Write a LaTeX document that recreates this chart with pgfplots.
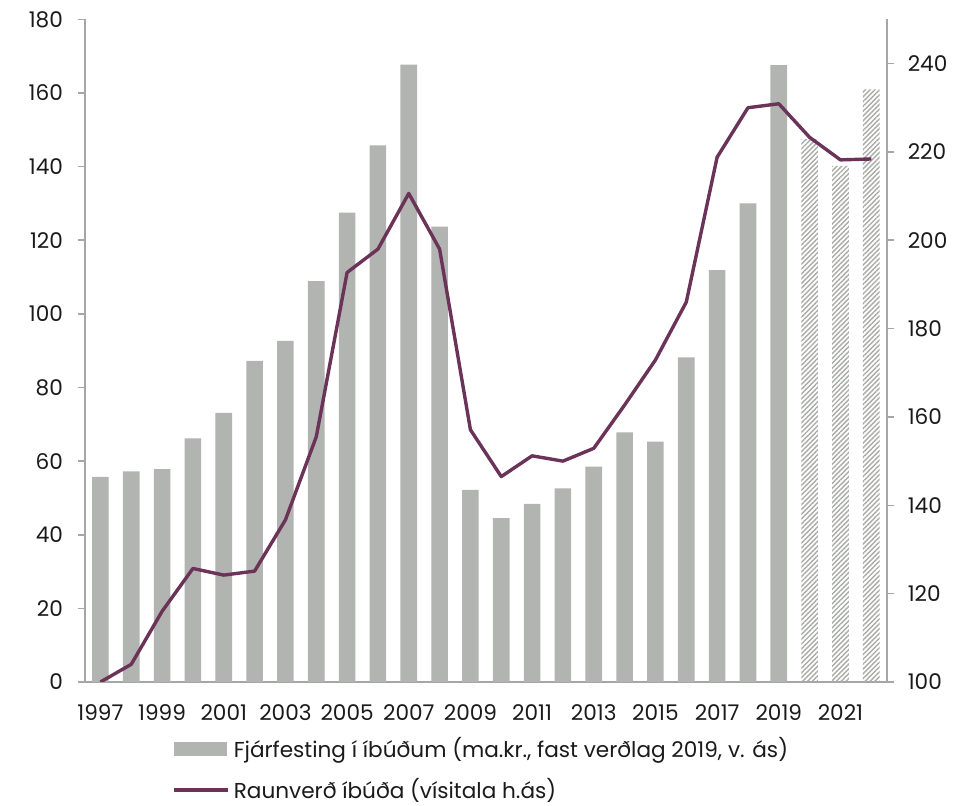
\documentclass[border=0pt]{standalone}
\usepackage{pgfplots}
\pgfplotsset{compat=1.18}
\usetikzlibrary{patterns.meta}
\usepackage{fontspec}
\setmainfont{Poppins}

\definecolor{barcol}{HTML}{B2B4B1}
\definecolor{hatchcol}{HTML}{A9ABA8}
\definecolor{linecol}{HTML}{6B3358}
\definecolor{axiscol}{HTML}{A6A6A6}
\definecolor{txtcol}{HTML}{1A1A1A}

% Investment in housing (left axis), 1997-2022; last three years are forecasts
\pgfplotstableread{
x  y
0  55.7
1  57.2
2  57.8
3  66.2
4  73.1
5  87.2
6  92.7
7  108.9
8  127.5
9  145.8
10 167.7
11 123.7
12 52.2
13 44.5
14 48.4
15 52.6
16 58.5
17 67.8
18 65.3
19 88.2
20 111.9
21 130.0
22 167.6
}\invest
\pgfplotstableread{
x  y
23 147.5
24 140.2
25 161.0
}\investfc
% Real house price index (right axis)
\pgfplotstableread{
x  y
0  100.0
1  104.0
2  116.0
3  125.7
4  124.2
5  125.1
6  136.7
7  155.5
8  192.7
9  198.0
10 210.6
11 198.0
12 157.1
13 146.5
14 151.2
15 150.0
16 152.9
17 162.7
18 172.9
19 186.0
20 218.8
21 230.0
22 230.9
23 223.3
24 218.2
25 218.4
}\price

\pgfplotsset{
  common/.style={
    width=400.85pt, height=331.3pt, scale only axis,
    xmin=-0.5, xmax=25.5,
    axis line style={axiscol, line width=0.8pt},
    tick style={axiscol, line width=0.8pt},
    tick align=outside,
    major tick length=3.5pt,
    tick label style={font=\fontsize{10.8}{12}\selectfont, text=txtcol},
    /pgf/number format/assume math mode=true,
  },
}

\begin{document}
\begin{tikzpicture}
\useasboundingbox (-42.5pt,-62pt) rectangle (446.5pt,341pt);

\begin{axis}[common,
  axis x line*=bottom, axis y line*=left,
  ymin=0, ymax=180, ytick={0,20,...,180},
  yticklabel style={xshift=-4pt},
  xtick={0,2,...,24},
  xticklabels={1997,1999,2001,2003,2005,2007,2009,2011,2013,2015,2017,2019,2021},
  xtick style={draw=none},
  xticklabel style={yshift=-4.5pt},
  extra x ticks={-0.5,1.5,...,25.5},
  extra x tick labels={},
  extra x tick style={tick style={axiscol, line width=0.8pt}, major tick length=3.5pt},
  ybar, bar width=8.3pt, bar shift=0pt,
]
\addplot[fill=barcol, draw=none] table[x=x, y=y] {\invest};
\addplot[draw=none, pattern={Lines[angle=45, distance=1.7pt, line width=0.7pt]},
  pattern color=hatchcol] table[x=x, y=y] {\investfc};
\end{axis}

\begin{axis}[common,
  axis x line=none, axis y line*=right,
  ymin=100, ymax=250, ytick={100,120,...,240},
  yticklabel style={xshift=3.5pt},
  legend style={draw=none, fill=none, at={(43.5pt,-25.5pt)}, anchor=north west,
    font=\fontsize{10.8}{12}\selectfont, text=txtcol,
    row sep=5pt, inner sep=0pt,
    legend cell align=left},
  legend columns=1,
]
\addlegendimage{legend image code/.code={
  \fill[barcol] (0pt,-3.1pt) rectangle (26pt,3.1pt);}}
\addlegendentry{Fjárfesting í íbúðum (ma.kr., fast verðlag 2019, v. ás)}
\addplot[linecol, line width=1.7pt, line join=round, mark=none,
  legend image code/.code={\draw[linecol, line width=1.7pt] (0pt,0pt) -- (27pt,0pt);}]
  table[x=x, y=y] {\price};
\addlegendentry{Raunverð íbúða (vísitala h.ás)}
\end{axis}
\end{tikzpicture}
\end{document}
